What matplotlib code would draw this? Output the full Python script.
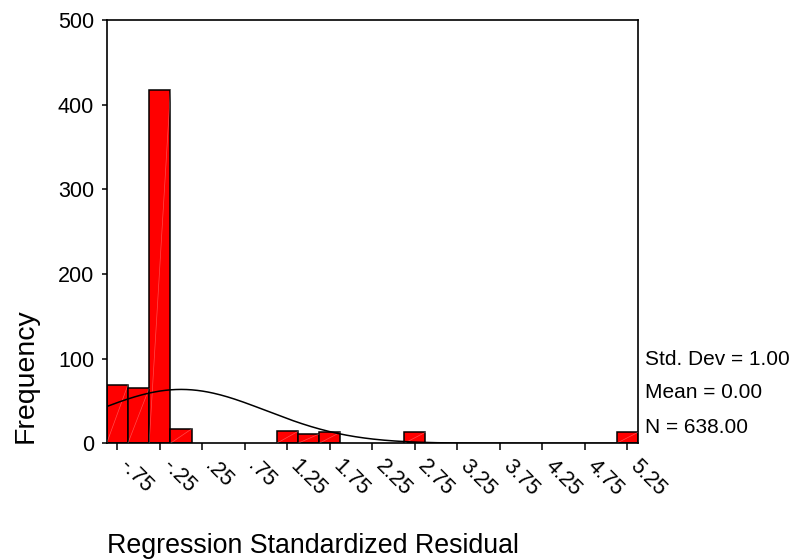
import numpy as np
import matplotlib
matplotlib.use("Agg")
import matplotlib.pyplot as plt
import matplotlib.transforms as mtransforms

plt.rcParams['font.family'] = ['Liberation Sans', 'DejaVu Sans']

# histogram bins (centres) and counts
bin_centers = [-0.75, -0.5, -0.25, 0.0, 1.25, 1.5, 1.75, 2.75, 5.25]
counts = [69, 65, 417, 17, 14, 11, 13, 13, 13]
bin_width = 0.25

tick_pos = [-0.75, -0.25, 0.25, 0.75, 1.25, 1.75, 2.25, 2.75, 3.25, 3.75, 4.25, 4.75, 5.25]
tick_labels = ["-.75", "-.25", ".25", ".75", "1.25", "1.75", "2.25", "2.75",
               "3.25", "3.75", "4.25", "4.75", "5.25"]

std_dev = 1.00
mean = 0.00
n_total = 638.00

fig = plt.figure(figsize=(7.93, 5.59), dpi=100)
ax = fig.add_axes([0.1345, 0.2070, 0.8045 - 0.1345, 0.9642 - 0.2070])

ax.bar(bin_centers, counts, width=bin_width, color="#ff0000",
       edgecolor="black", linewidth=1.1, zorder=2)

# faint fill seams like the original export
for c, h in zip(bin_centers, counts):
    ax.plot([c - bin_width / 2, c + bin_width / 2], [0, h], color="white",
            lw=0.5, alpha=0.3, zorder=3)

# normal curve
x = np.linspace(-0.875, 5.375, 300)
y = n_total * bin_width * np.exp(-0.5 * ((x - mean) / std_dev) ** 2) / (std_dev * np.sqrt(2 * np.pi))
ax.plot(x, y, color="black", lw=1.1, zorder=4)

ax.set_xlim(-0.875, 5.375)
ax.set_ylim(0, 500)
ax.set_yticks([0, 100, 200, 300, 400, 500])
ax.set_xticks(tick_pos)
ax.set_xticklabels(tick_labels, rotation=-45, ha="left", va="center",
                   rotation_mode="anchor")
ax.tick_params(axis="x", length=5, width=1.1, pad=9.5, labelsize=15.5)
ax.tick_params(axis="y", length=3.6, width=1.1, pad=5.5, labelsize=15.5)

offset = mtransforms.ScaledTranslation(0.06, 0, fig.dpi_scale_trans)
for lab in ax.get_xticklabels():
    lab.set_transform(lab.get_transform() + offset)

for sp in ax.spines.values():
    sp.set_linewidth(1.2)

fig.text(13 / 793, 1 - 443 / 559, "Frequency", rotation=90, ha="left",
         va="bottom", fontsize=20.5)
fig.text(107 / 793, 1 - 553 / 559, "Regression Standardized Residual",
         ha="left", va="baseline", fontsize=19.3)

stats = ["Std. Dev = %.2f" % std_dev, "Mean = %.2f" % mean, "N = %.2f" % n_total]
for s, yb in zip(stats, [365, 398, 433]):
    fig.text(645 / 793, 1 - yb / 559, s, ha="left", va="baseline", fontsize=15)

fig.savefig("out.png", dpi=100)
